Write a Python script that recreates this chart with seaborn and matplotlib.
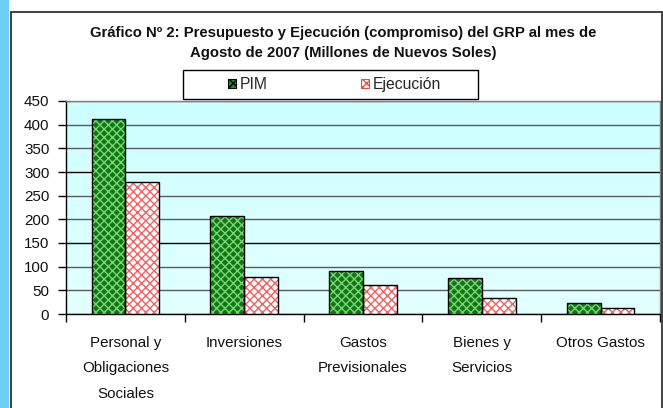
import numpy as np
import pandas as pd
import matplotlib
matplotlib.use("Agg")
import matplotlib.pyplot as plt
from matplotlib.patches import Rectangle
import seaborn as sns

categories = ["Personal y\nObligaciones\nSociales", "Inversiones", "Gastos\nPrevisionales",
              "Bienes y\nServicios", "Otros Gastos"]
pim = [411, 207, 91, 76, 23]
ejecucion = [278, 78, 61, 33, 13]
series_names = ["PIM", "Ejecución"]
yticks = [0, 50, 100, 150, 200, 250, 300, 350, 400, 450]
title1 = "Gráfico Nº 2: Presupuesto y Ejecución (compromiso) del GRP al mes de"
title2 = "Agosto de 2007 (Millones de Nuevos Soles)"

df = pd.DataFrame({
    "cat": categories * 2,
    "serie": [series_names[0]] * len(categories) + [series_names[1]] * len(categories),
    "valor": pim + ejecucion,
})

sns.set_theme(style="white")
plt.rcParams['font.family'] = ['Liberation Sans', 'DejaVu Sans']
plt.rcParams['hatch.linewidth'] = 1.0

W, H = 663, 408
fig = plt.figure(figsize=(W / 100, H / 100), dpi=100)
fig.patch.set_facecolor("white")

# left blue stripe and chart border
fig.patches.append(Rectangle((0, 0), 9 / W, 1, transform=fig.transFigure,
                             facecolor="#6CCFF6", edgecolor="none", zorder=0))
fig.patches.append(Rectangle((11 / W, -0.02), (662 - 11) / W, (H - 12) / H + 0.02,
                             transform=fig.transFigure, facecolor="none",
                             edgecolor="#333333", linewidth=1.3, zorder=1))

ax = fig.add_axes([66 / W, (H - 314) / H, (660 - 66) / W, (314 - 101) / H])

# gradient background
grad = np.linspace(0, 1, 256).reshape(-1, 1)
cmap = matplotlib.colors.LinearSegmentedColormap.from_list("bg", ["#E3FFFF", "#CCFFFF"])
ax.imshow(grad, extent=[0, 1, 0, 1], transform=ax.transAxes, cmap=cmap,
          aspect="auto", origin="lower", zorder=0)

palette = {"PIM": "#169A16", "Ejecución": "#FFFFFF"}
sns.barplot(data=df, x="cat", y="valor", hue="serie", palette=palette, ax=ax,
            width=0.57, gap=0, edgecolor="black", linewidth=1.0, saturation=1,
            legend=False, zorder=3)

hatch_cols = {"PIM": ("#0E7A0E", "#7FD27F"), "Ejecución": ("#FFFFFF", "#F06060")}
n = len(categories)
bars = [p for p in ax.patches if isinstance(p, Rectangle)][:2 * n]
for i, p in enumerate(bars):
    name = series_names[i // n]
    fc, hc = hatch_cols[name]
    x, y = p.get_x(), p.get_y()
    w, h = p.get_width(), p.get_height()
    ax.add_patch(Rectangle((x, y), w, h, facecolor=fc, edgecolor=hc, hatch="xxxx",
                           linewidth=0, zorder=3.5))
    p.set_facecolor("none")
    p.set_zorder(4)

ax.set_xlim(-0.5, n - 0.5)
ax.set_ylim(0, 450)
ax.set_yticks(yticks)
ax.set_yticklabels([str(v) for v in yticks])
ax.set_xlabel("")
ax.set_ylabel("")

ax.grid(axis="y", color="#5A5A5A", linewidth=1.0, zorder=1)
for v, gl in zip(yticks, ax.get_ygridlines()):
    if v in (150, 300):
        gl.set_color("#000000")
ax.set_axisbelow(True)

for s in ["top", "right"]:
    ax.spines[s].set_color("#808080")
    ax.spines[s].set_linewidth(1.0)
for s in ["left", "bottom"]:
    ax.spines[s].set_color("black")
    ax.spines[s].set_linewidth(1.0)

tick_fs = 10.9
ax.tick_params(axis="y", which="major", length=6, width=1, color="black",
               labelsize=tick_fs, pad=6, left=True, direction="out")
ax.set_xticks(np.arange(n))
ax.set_xticklabels(categories, fontsize=tick_fs, linespacing=2.02, va="top")
ax.tick_params(axis="x", which="major", length=0, pad=16)
ax.set_xticks(np.arange(-0.5, n, 1.0), minor=True)
ax.tick_params(axis="x", which="minor", length=6, width=1, color="black",
               bottom=True, direction="out")
for lab in ax.get_yticklabels() + ax.get_xticklabels():
    lab.set_color("#111111")

fig.text(343.5 / W, 1 - 36.5 / H, title1, ha="center", va="baseline",
         fontsize=10.75, fontweight="bold", color="#111111")
fig.text(343.5 / W, 1 - 56.5 / H, title2, ha="center", va="baseline",
         fontsize=10.75, fontweight="bold", color="#111111")

# legend frame
fig.patches.append(Rectangle((182.7 / W, 1 - 99 / H), (478 - 182.7) / W, 29 / H,
                             transform=fig.transFigure, facecolor="white",
                             edgecolor="black", linewidth=1.0, zorder=2))
handles = [Rectangle((0, 0), 1, 1, facecolor="#169A16", edgecolor="black", hatch="xxxx", lw=0.8),
           Rectangle((0, 0), 1, 1, facecolor="#FFFFFF", edgecolor="#E05050", hatch="xxxx", lw=0.8)]
leg = fig.legend(handles, series_names, loc="center left", ncol=2,
                 bbox_to_anchor=(227.5 / W, 1 - 84.5 / H), frameon=False,
                 fontsize=11.3, handlelength=0.55, handleheight=0.55, handletextpad=0.25,
                 columnspacing=5.9, borderpad=0.0, borderaxespad=0.0)
leg.set_zorder(3)

fig.savefig("out.png", dpi=100)
